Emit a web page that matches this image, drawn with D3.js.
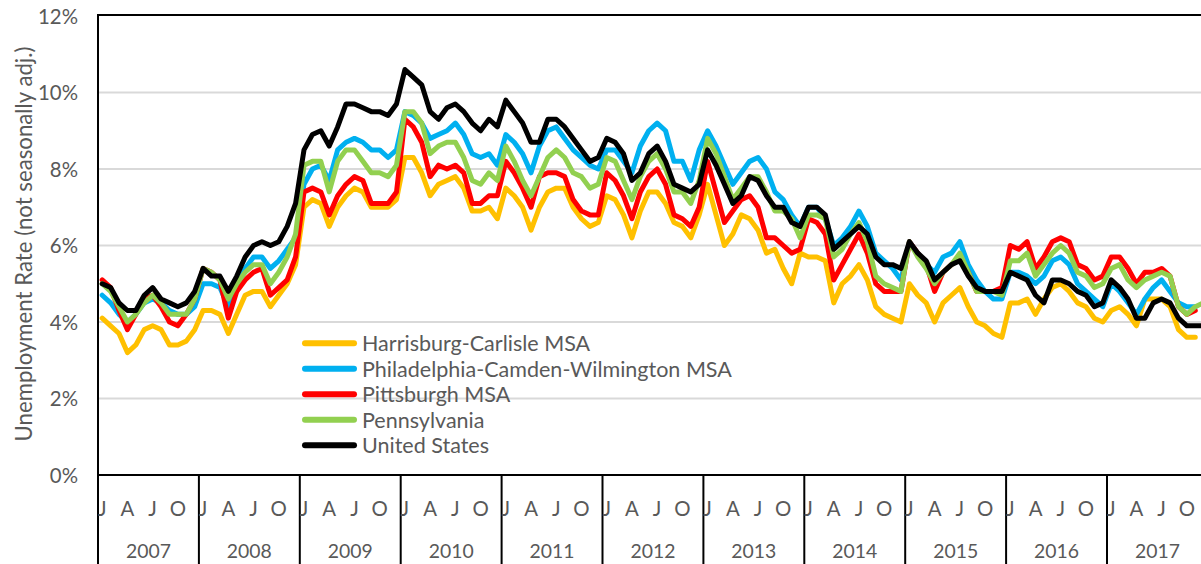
<!DOCTYPE html>
<html><head><meta charset="utf-8">
<script src="https://cdn.jsdelivr.net/npm/d3@7"></script>
<style>body{margin:0;background:#fff;overflow:hidden}svg{display:block}</style>
</head><body>
<svg id="chart" width="1201" height="564"></svg>
<script>
// ---------- data ----------
const years = [2007,2008,2009,2010,2011,2012,2013,2014,2015,2016,2017];
const monthTickIdx = [0,3,6,9];
const monthTickLabels = ["J","A","J","O"];
const yTicks = [0,2,4,6,8,10,12];
const seriesNames = ["Harrisburg-Carlisle MSA","Philadelphia-Camden-Wilmington MSA","Pittsburgh MSA","Pennsylvania","United States"];
const seriesColors = ["#FFC000","#00B0F0","#FF0000","#92D050","#000000"];
const yTitle = "Unemployment Rate (not seasonally adj.)";

const harrisburg = [
 4.1,3.9,3.7,3.2,3.4,3.8,3.9,3.8,3.4,3.4,3.5,3.8,
 4.3,4.3,4.2,3.7,4.2,4.7,4.8,4.8,4.4,4.7,5.0,5.5,
 7.0,7.2,7.1,6.5,7.0,7.3,7.5,7.4,7.0,7.0,7.0,7.2,
 8.3,8.3,7.9,7.3,7.6,7.7,7.8,7.5,6.9,6.9,7.0,6.7,
 7.5,7.3,7.0,6.4,7.0,7.4,7.5,7.5,7.0,6.7,6.5,6.6,
 7.3,7.2,6.8,6.2,6.9,7.4,7.4,7.1,6.6,6.5,6.2,6.8,
 7.6,6.8,6.0,6.3,6.8,6.7,6.4,5.8,5.9,5.4,5.0,5.8,
 5.7,5.7,5.6,4.5,5.0,5.2,5.5,5.1,4.4,4.2,4.1,4.0,
 5.0,4.7,4.5,4.0,4.5,4.7,4.9,4.4,4.0,3.9,3.7,3.6,
 4.5,4.5,4.6,4.2,4.6,4.9,5.0,4.8,4.5,4.4,4.1,4.0,
 4.3,4.4,4.2,3.9,4.6,4.6,4.6,4.4,3.8,3.6,3.6];
const philadelphia = [
 4.7,4.5,4.2,4.0,4.2,4.5,4.6,4.5,4.3,4.2,4.2,4.4,
 5.0,5.0,4.9,4.4,4.9,5.4,5.7,5.7,5.4,5.6,5.9,6.2,
 7.6,8.0,8.1,7.7,8.5,8.7,8.8,8.7,8.5,8.5,8.3,8.5,
 9.5,9.4,9.2,8.8,8.9,9.0,9.2,8.9,8.4,8.3,8.4,8.1,
 8.9,8.7,8.4,7.9,8.6,9.0,9.1,8.8,8.5,8.3,8.1,8.0,
 8.5,8.5,8.2,7.9,8.6,9.0,9.2,9.0,8.2,8.2,7.7,8.5,
 9.0,8.6,8.1,7.6,7.9,8.2,8.3,8.0,7.4,7.2,6.8,6.5,
 7.0,7.0,6.7,6.0,6.2,6.5,6.9,6.5,5.8,5.6,5.4,5.1,
 6.1,5.8,5.5,5.3,5.7,5.8,6.1,5.5,5.1,4.8,4.6,4.6,
 5.3,5.3,5.2,5.0,5.2,5.6,5.7,5.5,5.0,4.8,4.6,4.4,
 5.0,4.8,4.5,4.2,4.6,4.9,5.1,4.8,4.5,4.4,4.4];
const pittsburgh = [
 5.1,4.9,4.3,3.8,4.2,4.6,4.7,4.4,4.0,3.9,4.2,4.6,
 5.4,5.3,5.1,4.1,4.8,5.1,5.3,5.4,4.7,4.9,5.1,5.7,
 7.4,7.5,7.4,6.8,7.3,7.6,7.8,7.7,7.1,7.1,7.1,7.4,
 9.3,9.1,8.7,7.8,8.1,8.0,8.1,7.9,7.1,7.1,7.3,7.3,
 8.2,7.9,7.5,7.0,7.8,7.9,7.9,7.8,7.2,6.9,6.8,6.8,
 7.9,7.7,7.3,6.7,7.4,7.8,8.0,7.6,6.8,6.7,6.5,7.0,
 8.2,7.4,6.6,6.9,7.2,7.3,7.0,6.2,6.2,6.0,5.8,5.9,
 6.7,6.6,6.3,5.1,5.5,5.9,6.3,5.8,5.0,4.8,4.8,4.8,
 6.1,5.8,5.5,4.8,5.3,5.5,5.7,5.3,4.8,4.8,4.8,4.9,
 6.0,5.9,6.1,5.4,5.7,6.1,6.2,6.1,5.5,5.4,5.1,5.2,
 5.7,5.7,5.4,5.0,5.3,5.3,5.4,5.2,4.4,4.2,4.3];
const pennsylvania = [
 5.0,4.8,4.4,4.0,4.2,4.5,4.7,4.5,4.2,4.2,4.2,4.6,
 5.4,5.3,5.1,4.6,5.0,5.3,5.5,5.5,5.0,5.3,5.7,6.3,
 8.1,8.2,8.2,7.4,8.2,8.5,8.5,8.2,7.9,7.9,7.8,8.1,
 9.5,9.5,9.2,8.4,8.6,8.7,8.7,8.3,7.7,7.6,7.9,7.7,
 8.6,8.2,7.7,7.3,7.8,8.3,8.5,8.3,7.9,7.8,7.5,7.6,
 8.3,8.2,7.7,7.2,7.8,8.2,8.4,8.0,7.4,7.4,7.1,7.7,
 8.8,8.4,7.8,7.2,7.5,7.8,7.8,7.4,6.9,6.9,6.7,6.2,
 6.8,6.8,6.7,5.7,5.9,6.3,6.6,6.1,5.2,5.0,4.9,4.8,
 6.1,5.7,5.4,5.0,5.3,5.5,5.8,5.3,4.8,4.8,4.8,4.7,
 5.6,5.6,5.8,5.2,5.5,5.8,6.0,5.8,5.3,5.2,4.9,5.0,
 5.4,5.5,5.1,4.9,5.1,5.2,5.3,5.2,4.4,4.2,4.4,4.5];
const unitedStates = [
 5.0,4.9,4.5,4.3,4.3,4.7,4.9,4.6,4.5,4.4,4.5,4.8,
 5.4,5.2,5.2,4.8,5.2,5.7,6.0,6.1,6.0,6.1,6.5,7.1,
 8.5,8.9,9.0,8.6,9.1,9.7,9.7,9.6,9.5,9.5,9.4,9.7,
 10.6,10.4,10.2,9.5,9.3,9.6,9.7,9.5,9.2,9.0,9.3,9.1,
 9.8,9.5,9.2,8.7,8.7,9.3,9.3,9.1,8.8,8.5,8.2,8.3,
 8.8,8.7,8.4,7.7,7.9,8.4,8.6,8.2,7.6,7.5,7.4,7.6,
 8.5,8.1,7.6,7.1,7.3,7.8,7.7,7.3,7.0,7.0,6.6,6.5,
 7.0,7.0,6.8,5.9,6.1,6.3,6.5,6.3,5.7,5.5,5.5,5.4,
 6.1,5.8,5.6,5.1,5.3,5.5,5.6,5.2,4.9,4.8,4.8,4.8,
 5.3,5.2,5.1,4.7,4.5,5.1,5.1,5.0,4.8,4.7,4.4,4.5,
 5.1,4.9,4.6,4.1,4.1,4.5,4.6,4.5,4.1,3.9,3.9,3.9];
const seriesData = [harrisburg, philadelphia, pittsburgh, pennsylvania, unitedStates];

// ---------- layout ----------
const W = 1201, H = 564;
const plotLeft = 98, plotTop = 16, plotBottom = 475;
const yearW = 100.9;
const FONT = "Lato, 'Open Sans', sans-serif";
const TXT = "#595959";

const svg = d3.select("#chart");
const x = d3.scaleLinear().domain([0, years.length * 12]).range([plotLeft, plotLeft + yearW * years.length]);
const y = d3.scaleLinear().domain([0, 12]).range([plotBottom, plotTop]);

function fitSize(str, target, base) {
  const t = svg.append("text").attr("font-family", FONT).attr("font-size", base).text(str);
  const w = t.node().getComputedTextLength();
  t.remove();
  return base * target / w;
}
const tickSize = fitSize("12%", 40, 20);
const yearSize = fitSize("2007", 45, 20);
const legendSize = fitSize(seriesNames[1], 370, 20);
const titleSize = fitSize(yTitle, 395, 20);

// gridlines
svg.append("g").selectAll("line").data(yTicks.filter(v => v > 0 && v < 12)).join("line")
  .attr("x1", plotLeft).attr("x2", W).attr("y1", d => y(d)).attr("y2", d => y(d))
  .attr("stroke", "#d9d9d9").attr("stroke-width", 2);

// y axis labels via d3 axis
const yAxis = svg.append("g").attr("transform", `translate(${plotLeft - 20},0)`)
  .call(d3.axisLeft(y).tickValues(yTicks).tickFormat(d => d + "%").tickSize(0));
yAxis.select(".domain").remove();
yAxis.selectAll("text").attr("font-family", FONT).attr("font-size", tickSize).attr("fill", TXT).attr("x", 0).attr("dy", "0.35em");

// y title
svg.append("text").attr("transform", `translate(23,${244}) rotate(-90)`)
  .attr("text-anchor", "middle").attr("dominant-baseline", "central")
  .attr("font-family", FONT).attr("font-size", titleSize).attr("fill", TXT).text(yTitle);

// series lines
const line = d3.line().x((d, i) => x(i + 0.5)).y(d => y(d));
svg.append("g").selectAll("path").data(seriesData).join("path")
  .attr("d", d => line(d)).attr("fill", "none")
  .attr("stroke", (d, i) => seriesColors[i]).attr("stroke-width", 5)
  .attr("stroke-linejoin", "round").attr("stroke-linecap", "round");

// plot frame
svg.append("line").attr("x1", plotLeft).attr("x2", W).attr("y1", plotTop - 1).attr("y2", plotTop - 1).attr("stroke", "#000").attr("stroke-width", 2);
svg.append("line").attr("x1", plotLeft).attr("x2", W).attr("y1", plotBottom).attr("y2", plotBottom).attr("stroke", "#000").attr("stroke-width", 2);
svg.append("line").attr("x1", plotLeft).attr("x2", plotLeft).attr("y1", plotTop - 2).attr("y2", H).attr("stroke", "#000").attr("stroke-width", 2);

// x axis: year separators, month letters, year labels
const xg = svg.append("g");
xg.selectAll("line.sep").data(d3.range(1, years.length + 1)).join("line").attr("class", "sep")
  .attr("x1", d => x(d * 12)).attr("x2", d => x(d * 12)).attr("y1", plotBottom).attr("y2", H)
  .attr("stroke", "#000").attr("stroke-width", 2);
const monthTicks = [];
years.forEach((yr, yi) => monthTickIdx.forEach((m, k) => monthTicks.push({ i: yi * 12 + m, label: monthTickLabels[k] })));
xg.selectAll("text.m").data(monthTicks).join("text").attr("class", "m")
  .attr("x", d => x(d.i + 0.5)).attr("y", 508).attr("text-anchor", "middle").attr("dominant-baseline", "central")
  .attr("font-family", FONT).attr("font-size", tickSize).attr("fill", TXT).text(d => d.label);
xg.selectAll("text.y").data(years).join("text").attr("class", "y")
  .attr("x", (d, i) => x(i * 12 + 6)).attr("y", 550).attr("text-anchor", "middle").attr("dominant-baseline", "central")
  .attr("font-family", FONT).attr("font-size", yearSize).attr("fill", TXT).text(d => d);

// legend
const lg = svg.append("g");
const rowY = [343.3, 368.8, 394.3, 419.8, 445.3];
seriesNames.forEach((n, i) => {
  lg.append("line").attr("x1", 305).attr("x2", 354).attr("y1", rowY[i]).attr("y2", rowY[i])
    .attr("stroke", seriesColors[i]).attr("stroke-width", 6).attr("stroke-linecap", "round");
  lg.append("text").attr("x", 362).attr("y", rowY[i]).attr("dominant-baseline", "central")
    .attr("font-family", FONT).attr("font-size", legendSize).attr("fill", TXT).text(n);
});
</script>
</body></html>
